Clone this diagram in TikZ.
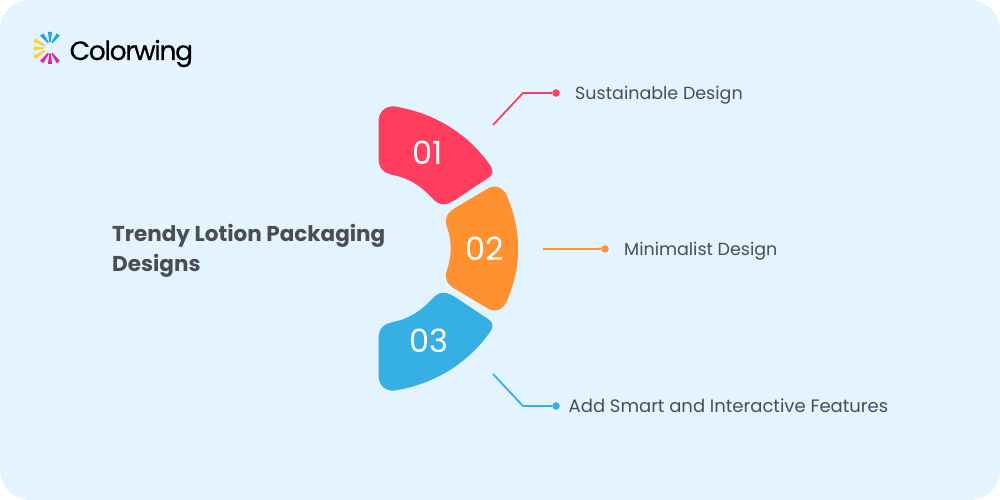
\documentclass[tikz,border=0pt]{standalone}
\usepackage{fontspec}
\usetikzlibrary{calc}
\setmainfont{Poppins}
\newfontfamily\logofont[LetterSpace=-5,FakeBold=0.4]{Poppins}
\definecolor{bgc}{HTML}{E3F4FF}
\definecolor{redc}{HTML}{FF3E5F}
\definecolor{orac}{HTML}{FF9130}
\definecolor{bluc}{HTML}{36B0E4}
\definecolor{txtc}{HTML}{4A4D52}
\definecolor{logoy}{HTML}{F9CF3A}
\definecolor{logom}{HTML}{E5239A}
\definecolor{logob}{HTML}{22A5DC}
\tikzset{
  lab/.style={anchor=base west,inner sep=0pt,text=txtc,font=\fontsize{17.5}{21}\selectfont},
  ttl/.style={anchor=base west,inner sep=0pt,text=txtc,font=\fontsize{21.5}{30}\selectfont\bfseries},
  num/.style={inner sep=0pt,text=white,font=\fontsize{32}{36}\selectfont},
  dotn/.style={circle,inner sep=0pt,minimum size=7.5pt,fill=#1},
  conn/.style={line width=1.8pt,draw=#1,line join=round},
}
\begin{document}
\begin{tikzpicture}[x=1pt,y=-1pt]
\useasboundingbox (0,0) rectangle (1000,500);
\fill[white] (0,0) rectangle (1000,500);
\fill[bgc,rounded corners=30pt] (0,0) rectangle (1000,500);
% logo
\foreach \a/\b/\c/\d/\e in {48.3/42.7/41.7/34.5/logob,50/42/50/32/logob,52/42.7/58.3/34.5/logob,
  45/46/34.5/40/logoy,44/48.3/33.5/48.3/logoy,45/50.7/34.5/57.3/logoy,
  48.3/53.3/41.7/62/logom,50/53.3/50/64/logom,52/53.3/58.3/62/logom}
  \fill[\e] ($(\a,\b)!0.7pt!90:(\c,\d)$) -- ($(\a,\b)!0.7pt!-90:(\c,\d)$)
    -- ($(\c,\d)!2pt!90:(\a,\b)$) -- ($(\c,\d)!2pt!-90:(\a,\b)$) -- cycle;
\node[anchor=base west,inner sep=0pt,text=black,font=\fontsize{26.5}{30}\logofont] (logo) at (69.5,60) {Colorwing};
% title
\node[ttl] (title1) at (112,241) {Trendy Lotion Packaging};
\node[ttl] (title2) at (112,271) {Designs};
% segments
\fill[redc] (378.5,122) .. controls (378.5,112) and (385,105.5) .. (395,106.5)
  .. controls (435,113) and (468,134) .. (490,165)
  .. controls (494,171) and (493,175) .. (488,178)
  -- (455,200) .. controls (447,205) and (440,207) .. (432,198)
  .. controls (420,185) and (408,178) .. (393,175)
  .. controls (384,173) and (378.5,169) .. (378.5,158) -- cycle;
\fill[orac] (455,208) -- (487,189) .. controls (495,184) and (503,187) .. (507,196)
  .. controls (522,232) and (522,265) .. (507,301)
  .. controls (503,310) and (495,313) .. (487,308)
  -- (455,289) .. controls (447,284) and (444,279) .. (447,270)
  .. controls (452,255) and (452,242) .. (447,227)
  .. controls (444,218) and (447,213) .. (455,208) -- cycle;
\fill[bluc] (378.5,375) .. controls (378.5,385) and (385,391.5) .. (395,390.5)
  .. controls (435,384) and (468,363) .. (490,332)
  .. controls (494,326) and (493,322) .. (488,319)
  -- (455,297) .. controls (447,292) and (440,290) .. (432,299)
  .. controls (420,312) and (408,319) .. (393,322)
  .. controls (384,324) and (378.5,328) .. (378.5,339) -- cycle;
\node[num] (n1) at (428,153) {01};
\node[num] (n2) at (484.5,249) {02};
\node[num] (n3) at (429,341) {03};
% connectors
\coordinate (s1) at (493,125);
\coordinate (b1) at (523,93);
\node[dotn=redc] (d1) at (556,93) {};
\draw[conn=redc] (s1) -- (b1) -- (d1);
\coordinate (s2) at (543,249);
\node[dotn=orac] (d2) at (605,249) {};
\draw[conn=orac] (s2) -- (d2);
\coordinate (s3) at (493,374);
\coordinate (b3) at (523,406);
\node[dotn=bluc] (d3) at (556,406) {};
\draw[conn=bluc] (s3) -- (b3) -- (d3);
% labels
\node[lab] (l1) at (575,99.5) {Sustainable Design};
\node[lab] (l2) at (624,255.5) {Minimalist Design};
\node[lab,font=\fontsize{18}{21}\selectfont] (l3) at (568.5,412.5) {Add Smart and Interactive Features};
\end{tikzpicture}
\end{document}
